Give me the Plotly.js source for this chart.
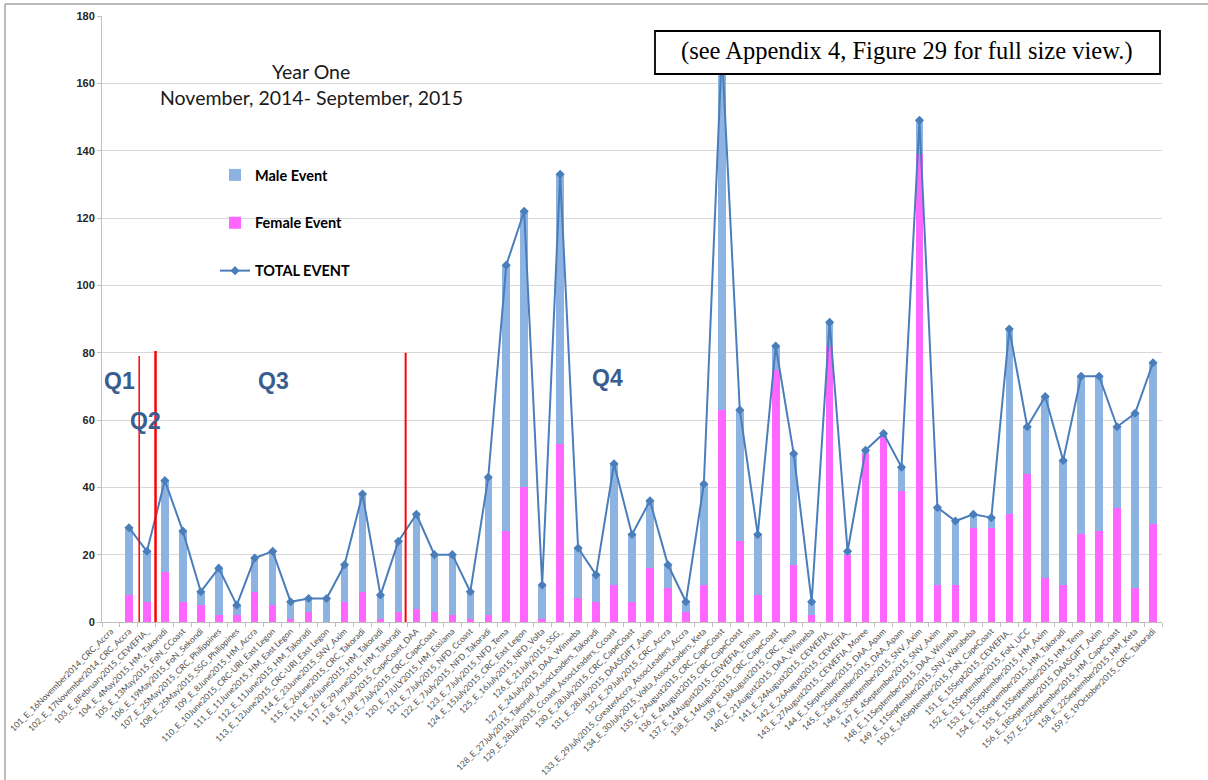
<!DOCTYPE html>
<html>
<head>
<meta charset="utf-8">
<script src="https://cdn.plot.ly/plotly-3.0.1.min.js"></script>
<style>html,body{margin:0;padding:0;background:#fff;}#chart{width:1208px;height:780px;}</style>
</head>
<body>
<div id="chart"></div>
<script>
const categories = [
"101_E_16November2014_CRC_Accra",
"102_E_17November2014_CRC_Accra",
"103_E_8February2015_CEWEFIA_",
"104_E_4May2015_HM_Takoradi",
"105_E_13May2015_FoN_CCoast",
"106_E_19May2015_FoN_Sekondi",
"107_E_25May2015_CRC_Philippines",
"108_E_25May2015_SSG_Philippines",
"109_E_8June2015_HM_Accra",
"110_E_10June2015_CRC-URI_East Legon",
"111_E_11June2015_HM_East Legon",
"112_E_11June2015_HM_Takoradi",
"113_E_12June2015_CRC-URI_East Legon",
"114_E_23June2015_SNV_Axim",
"115_E_26June2015_CRC_Takoradi",
"116_E_26June2015_HM_Takoradi",
"117_E_29June2015_HM_Takoradi",
"118_E_7July2015_CapeCoast_DAA",
"119_E_7July2015_CRC_CapeCoast",
"120_E_7JULY2015_HM_Essiama",
"121_E_7July2015_NFD_Ccoast",
"122_E_7July2015_NFD_Takoradi",
"123_E_7July2015_NFD_Tema",
"124_E_15July2015_CRC_East Legon",
"125_E_16July2015_NFD_Volta",
"126_E_21July2015_SSG_",
"127_E_24July2015_DAA_Winneba",
"128_E_27July2015_Takoradi_AssocLeaders_Takoradi",
"129_E_28July2015_Ccoast_AssocLeaders_Ccoast",
"130_E_28July2015_CRC_CapeCoast",
"131_E_28July2015_DAASGIFT_Axim",
"132_E_29July2015_CRC_Accra",
"133_E_29July2015_GreaterAccra_AssocLeaders_Accra",
"134_E_30July2015_Volta_AssocLeaders_Keta",
"135_E_2August2015_CRC_CapeCoast",
"136_E_4August2015_CRC_CapeCoast",
"137_E_14August2015_CEWEFIA_Elmina",
"138_E_14August2015_CRC_CapeCoast",
"139_E_18August2015_CRC_Tema",
"140_E_21August2015_DAA_Winneba",
"141_E_24August2015_CEWEFIA_",
"142_E_26August2015_CEWEFIA_",
"143_E_27August2015_CEWEFIA_Moree",
"144_E_1September2015_DAA_Apam",
"145_E_2September2015_DAA_Apam",
"146_E_3September2015_SNV_Axim",
"147_E_4September2015_SNV_Axim",
"148_E_11September2015_DAA_Winneba",
"149_E_11September2015_SNV_Warabeba",
"150_E_14September2015_FoN_CapeCoast",
"151_E_15Sept2015_CEWEFIA_",
"152_E_15September2015_FoN_UCC",
"153_E_15September2015_HM_Axim",
"154_E_15September2015_HM_Takoradi",
"155_E_15September2015_HM_Tema",
"156_E_18September2015_DAASGIFT_Axim",
"157_E_22September2015_HM_CapeCoast",
"158_E_22September2015_HM_Keta",
"159_E_19October2015_CRC_Takoradi"
];

const femaleEvent = [null,
 8, 6, 15, 6, 5, 2, 2, 9, 5, 1,
 3, 0, 6, 9, 1, 3, 4, 3, 2, 1,
 2, 27, 40, 1, 53, 7, 6, 11, 6, 16,
 10, 3, 11, 63, 24, 8, 75, 17, 2, 82,
 20, 50, 55, 39, 139, 11, 11, 28, 28, 32,
 44, 13, 11, 26, 27, 34, 10, 29];

const maleEvent = [null,
 20, 15, 27, 21, 4, 14, 3, 10, 16, 5,
 4, 7, 11, 29, 7, 21, 28, 17, 18, 8,
 41, 79, 82, 10, 80, 15, 8, 36, 20, 20,
 7, 3, 30, 107, 39, 18, 7, 33, 4, 7,
 1, 1, 1, 7, 10, 23, 19, 4, 3, 55,
 14, 54, 37, 47, 46, 24, 52, 48];

const totalEvent = [null,
 28, 21, 42, 27, 9, 16, 5, 19, 21, 6,
 7, 7, 17, 38, 8, 24, 32, 20, 20, 9,
 43, 106, 122, 11, 133, 22, 14, 47, 26, 36,
 17, 6, 41, 170, 63, 26, 82, 50, 6, 89,
 21, 51, 56, 46, 149, 34, 30, 32, 31, 87,
 58, 67, 48, 73, 73, 58, 62, 77];

const quarterLabels = ["Q1", "Q2", "Q3", "Q4"];
const yTicks = [0, 20, 40, 60, 80, 100, 120, 140, 160, 180];

// layout helpers (pixel -> paper)
const L = 102, R = 1162, T = 16, B = 622;
const px = x => (x - L) / (R - L);
const py = y => (B - y) / (B - T);

const traces = [
  {type: 'bar', name: '<b>Female Event</b>', x: categories, y: femaleEvent,
   marker: {color: '#FF66FF'}, legendgroup: 'f', legendrank: 2},
  {type: 'bar', name: '<b>Male Event</b>', x: categories, y: maleEvent,
   marker: {color: '#8DB3E2'}, legendgroup: 'm', legendrank: 1},
  {type: 'scatter', mode: 'lines+markers', name: '<b>TOTAL EVENT</b>', x: categories, y: totalEvent,
   line: {color: '#4A7EBB', width: 2}, marker: {symbol: 'diamond', size: 7, color: '#4A7EBB'},
   legendgroup: 't', legendrank: 3, connectgaps: false}
];

const qFont = {family: 'Liberation Sans, Arial, sans-serif', size: 23, color: '#3A5D8F'};
const ann = (x, y, text, font) => ({xref: 'paper', yref: 'paper', x: px(x), y: py(y), text: text,
  showarrow: false, xanchor: 'center', yanchor: 'middle', font: font});
const titleFont = {family: 'Lato, Open Sans, sans-serif', size: 19.5, color: '#1a1a1a'};

const layout = {
  width: 1208, height: 780,
  margin: {l: L, r: 1208 - R, t: T, b: 780 - B, autoexpand: false},
  paper_bgcolor: '#ffffff', plot_bgcolor: '#ffffff',
  barmode: 'stack', bargap: 0.58,
  hovermode: false,
  showlegend: true,
  legend: {x: px(215), y: py(159), xanchor: 'left', yanchor: 'top',
    bgcolor: 'rgba(0,0,0,0)', tracegroupgap: 26,
    font: {family: 'Lato, Open Sans, sans-serif', size: 14.5, color: '#000'}},
  xaxis: {type: 'category', range: [-0.5, 58.5], tickmode: 'linear', tick0: 0, dtick: 1,
    tickangle: -45, tickfont: {family: 'Lato, Open Sans, sans-serif', size: 8.5, color: '#4d4d4d'},
    ticks: 'outside', tickson: 'boundaries', ticklen: 4, tickcolor: '#BFBFBF',
    showline: true, linecolor: '#BFBFBF', linewidth: 1, showgrid: false, zeroline: false,
    automargin: false, fixedrange: true},
  yaxis: {range: [0, 180], tickmode: 'array', tickvals: yTicks,
    tickfont: {family: 'Liberation Sans, Arial, sans-serif', size: 11, color: '#262626', weight: 'bold'},
    ticks: 'outside', ticklen: 4, tickcolor: '#BFBFBF',
    showline: true, linecolor: '#BFBFBF', linewidth: 1,
    showgrid: true, gridcolor: '#D9D9D9', gridwidth: 1, zeroline: false,
    automargin: false, fixedrange: true},
  shapes: [
    {type: 'line', xref: 'paper', yref: 'paper', x0: px(5), x1: px(1210), y0: py(4), y1: py(4), line: {color: '#A6A6A6', width: 1.5}},
    {type: 'line', xref: 'paper', yref: 'paper', x0: px(5), x1: px(5), y0: py(4), y1: py(782), line: {color: '#A6A6A6', width: 1.5}},
    {type: 'line', xref: 'x', yref: 'y', x0: 1.57, x1: 1.57, y0: 0, y1: 79, line: {color: '#FF0000', width: 1.5}, layer: 'above'},
    {type: 'line', xref: 'x', yref: 'y', x0: 2.48, x1: 2.48, y0: 0, y1: 80.5, line: {color: '#FF0000', width: 2.5}, layer: 'above'},
    {type: 'line', xref: 'x', yref: 'y', x0: 16.4, x1: 16.4, y0: 0, y1: 80, line: {color: '#FF0000', width: 2}, layer: 'above'},
    {type: 'rect', xref: 'paper', yref: 'paper', x0: px(655), x1: px(1160), y0: py(74), y1: py(31),
     line: {color: '#000000', width: 1.8}, fillcolor: '#FFFFFF', layer: 'above'}
  ],
  annotations: [
    ann(311, 71, 'Year One', titleFont),
    ann(311, 98, 'November, 2014- September, 2015', titleFont),
    ann(907, 51, '(see Appendix 4, Figure 29 for full size view.)',
      {family: 'Liberation Serif, Times New Roman, serif', size: 24.5, color: '#000'}),
    ann(119, 381, '<b>' + quarterLabels[0] + '</b>', qFont),
    ann(145, 421, '<b>' + quarterLabels[1] + '</b>', qFont),
    ann(273, 381, '<b>' + quarterLabels[2] + '</b>', qFont),
    ann(607, 378, '<b>' + quarterLabels[3] + '</b>', qFont)
  ]
};

Plotly.newPlot('chart', traces, layout, {staticPlot: true, displayModeBar: false});
</script>
</body>
</html>
